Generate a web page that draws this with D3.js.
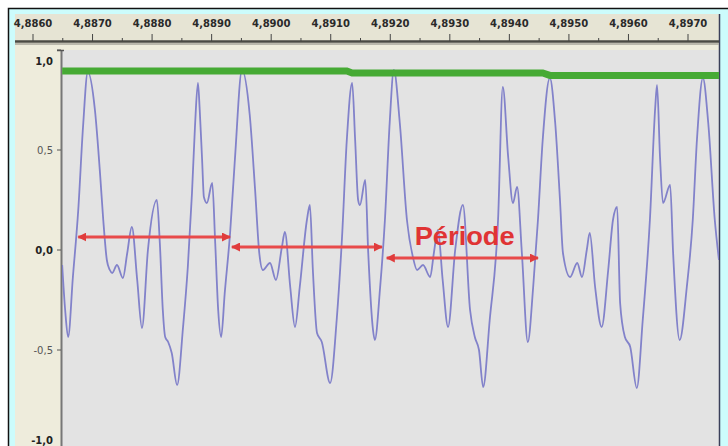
<!DOCTYPE html>
<html>
<head>
<meta charset="utf-8">
<script src="https://cdn.jsdelivr.net/npm/d3@7"></script>
<style>
  body { margin: 0; background: #fff; }
  svg { display: block; }
</style>
</head>
<body>
<div id="chart"></div>
<script>
// waveform: [time (s), amplitude]
const wave = [
  [4.88649, -0.075], [4.88654, -0.30], [4.88659, -0.435], [4.88667, -0.135], [4.88676, 0.20],
  [4.88684, 0.615], [4.88692, 0.89], [4.88704, 0.70], [4.88713, 0.365], [4.88718, 0.15],
  [4.88724, -0.05], [4.88729, -0.10], [4.88733, -0.115], [4.88741, -0.075], [4.88751, -0.14],
  [4.88758, -0.02], [4.88766, 0.115], [4.88775, -0.15], [4.88783, -0.39], [4.88793, 0.0],
  [4.88808, 0.25], [4.88813, 0.035], [4.88818, -0.30], [4.88822, -0.435], [4.88827, -0.46],
  [4.88833, -0.515], [4.88842, -0.675], [4.88852, -0.385], [4.88860, -0.085], [4.88867, 0.285],
  [4.88872, 0.615], [4.88877, 0.835], [4.88880, 0.70], [4.88884, 0.45], [4.88887, 0.265],
  [4.88892, 0.235], [4.88901, 0.335], [4.88906, 0.035], [4.88911, -0.30], [4.88916, -0.435],
  [4.88922, -0.215], [4.88931, 0.085], [4.88939, 0.45], [4.88951, 0.90], [4.88964, 0.675],
  [4.88973, 0.30], [4.88980, -0.015], [4.88986, -0.10], [4.88998, -0.065], [4.89008, -0.15],
  [4.89018, 0.015], [4.89023, 0.09], [4.89032, -0.185], [4.89040, -0.385], [4.89048, -0.185],
  [4.89060, 0.15], [4.89065, 0.225], [4.89070, -0.10], [4.89077, -0.415], [4.89085, -0.46],
  [4.89099, -0.665], [4.89110, -0.35], [4.89119, 0.065], [4.89127, 0.55], [4.89136, 0.835],
  [4.89141, 0.55], [4.89146, 0.25], [4.89149, 0.225], [4.89158, 0.35], [4.89163, -0.015],
  [4.89171, -0.40], [4.89174, -0.45], [4.89183, -0.185], [4.89191, 0.15], [4.89199, 0.635],
  [4.89206, 0.90], [4.89216, 0.635], [4.89228, 0.15], [4.89238, -0.035], [4.89245, -0.10],
  [4.89255, -0.075], [4.89267, -0.135], [4.89273, -0.02], [4.89280, 0.10], [4.89288, -0.15],
  [4.89297, -0.385], [4.89309, 0.0], [4.89322, 0.225], [4.89334, -0.30], [4.89342, -0.435],
  [4.89349, -0.50], [4.89356, -0.685], [4.89367, -0.35], [4.89381, 0.15], [4.89389, 0.815],
  [4.89398, 0.465], [4.89406, 0.235], [4.89413, 0.315], [4.89421, -0.015], [4.89431, -0.46],
  [4.89440, -0.185], [4.89448, 0.15], [4.89456, 0.55], [4.89468, 0.86], [4.89477, 0.635],
  [4.89485, 0.25], [4.89490, -0.015], [4.89502, -0.135], [4.89514, -0.065], [4.89522, -0.135],
  [4.89530, 0.0], [4.89535, 0.085], [4.89544, -0.185], [4.89555, -0.385], [4.89566, -0.10],
  [4.89574, 0.15], [4.89581, 0.215], [4.89586, -0.265], [4.89594, -0.435], [4.89603, -0.485],
  [4.89614, -0.69], [4.89624, -0.35], [4.89636, 0.15], [4.89645, 0.715], [4.89648, 0.825],
  [4.89653, 0.465], [4.89658, 0.235], [4.89670, 0.325], [4.89675, -0.015], [4.89686, -0.45],
  [4.89698, -0.185], [4.89708, 0.15], [4.89715, 0.55], [4.89725, 0.86], [4.89734, 0.635],
  [4.89745, 0.15], [4.89752, -0.05]
];

// green envelope drawn over the peaks
const envelope = [
  [4.88649, 0.895], [4.89127, 0.895], [4.89136, 0.885],
  [4.89456, 0.885], [4.89468, 0.873], [4.89752, 0.873]
];

// red period arrows: [start, end, level]
const arrows = [
  [4.88676, 4.88931, 0.065],
  [4.88934, 4.89186, 0.015],
  [4.89194, 4.89448, -0.04]
];
const label = { text: "Période", t: 4.89241, v: 0.025 };

const xTicks = [4.8860, 4.8870, 4.8880, 4.8890, 4.8900, 4.8910, 4.8920, 4.8930, 4.8940, 4.8950, 4.8960, 4.8970];
const yTicks = [1, 0.5, 0, -0.5, -1];

const W = 728, H = 446;
const plot = { left: 62, right: 719, top: 50 };

let svg = d3.select("#chart").append("svg")
  .attr("width", W).attr("height", H);

// outer frame
svg.append("rect").attr("x", 8).attr("y", 8).attr("width", W - 8).attr("height", H - 8)
  .attr("fill", "#ccfcfc");
svg.append("path").attr("d", `M8.5,${H}V8.5H${W}`).attr("fill", "none").attr("stroke", "#111").attr("stroke-width", 1.5);

// panels
svg.append("rect").attr("x", 15).attr("y", 14).attr("width", plot.right - 15).attr("height", H - 14)
  .attr("fill", "#eeecdc");
svg.append("rect").attr("x", 15).attr("y", 14).attr("width", plot.right - 15).attr("height", 28)
  .attr("fill", "#e6e4d4");
svg.append("rect").attr("x", plot.left).attr("y", plot.top).attr("width", plot.right - plot.left).attr("height", H - plot.top)
  .attr("fill", "#e3e3e3");
svg.append("line").attr("x1", plot.right + 0.5).attr("x2", plot.right + 0.5).attr("y1", 14).attr("y2", H)
  .attr("stroke", "#3a3f5a").attr("stroke-width", 1.5);

let x = d3.scaleLinear().domain([4.8860, 4.8970]).range([33, 688]);
let y = d3.scaleLinear().domain([-1, 1]).range([450, 50]);

let fr = d3.formatLocale({ decimal: ",", thousands: " ", grouping: [3], currency: ["", ""], minus: "-" });

// time ruler
let minor = d3.range(0, xTicks.length * 2 - 1).map(i => xTicks[0] + i * 0.0005);
let ruler = svg.append("g");
ruler.append("line").attr("x1", 15).attr("x2", plot.right).attr("y1", 41.5).attr("y2", 41.5)
  .attr("stroke", "#4a4a44").attr("stroke-width", 2.5);
ruler.append("line").attr("x1", 15).attr("x2", plot.right).attr("y1", 44).attr("y2", 44)
  .attr("stroke", "#a8a79c").attr("stroke-width", 1.5);
ruler.selectAll(".minor").data(minor).enter().append("line")
  .attr("x1", d => x(d)).attr("x2", d => x(d)).attr("y1", (d, i) => i % 2 ? 38 : 34).attr("y2", 41)
  .attr("stroke", "#444").attr("stroke-width", 1);
ruler.selectAll("text").data(xTicks).enter().append("text")
  .attr("x", d => x(d)).attr("y", 27)
  .attr("text-anchor", "middle")
  .style("font", "bold 10px 'DejaVu Sans'").style("fill", "#2a2a2a")
  .text(d => fr.format(".4f")(d));

// amplitude axis
let yAxis = svg.append("g");
yAxis.append("line").attr("x1", plot.left - 0.5).attr("x2", plot.left - 0.5).attr("y1", plot.top).attr("y2", H)
  .attr("stroke", "#777").attr("stroke-width", 2);
yAxis.append("line").attr("x1", 57).attr("x2", 64).attr("y1", plot.top + 0.5).attr("y2", plot.top + 0.5)
  .attr("stroke", "#555").attr("stroke-width", 1.5);
yAxis.selectAll(".tick").data(yTicks).enter().append("line")
  .attr("x1", 57).attr("x2", 61).attr("y1", d => y(d)).attr("y2", d => y(d))
  .attr("stroke", "#555");
yAxis.selectAll("text").data(yTicks).enter().append("text")
  .attr("x", 53)
  .attr("y", d => Math.max(65, Math.min(444, y(d) + 4)))
  .attr("text-anchor", "end")
  .style("font", d => (d % 1 === 0 ? "bold " : "") + "10px 'DejaVu Sans'")
  .style("fill", d => d % 1 === 0 ? "#222" : "#555")
  .text(d => fr.format(".1f")(d));

// signal
let clip = svg.append("clipPath").attr("id", "clip").append("rect")
  .attr("x", plot.left).attr("y", plot.top).attr("width", plot.right - plot.left).attr("height", H - plot.top);

let line = d3.line().x(d => x(d[0])).y(d => y(d[1])).curve(d3.curveMonotoneX);
svg.append("path").datum(wave)
  .attr("clip-path", "url(#clip)")
  .attr("d", line)
  .attr("fill", "none").attr("stroke", "#8282ca").attr("stroke-width", 1.8);

svg.append("path").datum(envelope)
  .attr("d", d3.line().x(d => x(d[0])).y(d => y(d[1])))
  .attr("fill", "none").attr("stroke", "#46aa34").attr("stroke-width", 7);

// period arrows
let defs = svg.append("defs");
defs.append("marker").attr("id", "head").attr("viewBox", "0 0 10 10")
  .attr("refX", 9).attr("refY", 5).attr("markerWidth", 3).attr("markerHeight", 3)
  .attr("orient", "auto-start-reverse")
  .append("path").attr("d", "M0,0L10,5L0,10Z").attr("fill", "#e03c3c");

svg.selectAll(".arrow").data(arrows).enter().append("line")
  .attr("x1", d => x(d[0])).attr("x2", d => x(d[1]))
  .attr("y1", d => y(d[2])).attr("y2", d => y(d[2]))
  .attr("stroke", "#e84a4a").attr("stroke-width", 3)
  .attr("marker-start", "url(#head)").attr("marker-end", "url(#head)");

svg.append("text")
  .attr("x", x(label.t)).attr("y", y(label.v))
  .attr("textLength", 100).attr("lengthAdjust", "spacingAndGlyphs")
  .style("font", "bold 25px 'Liberation Sans'").style("fill", "#e03434")
  .text(label.text);
</script>
</body>
</html>
